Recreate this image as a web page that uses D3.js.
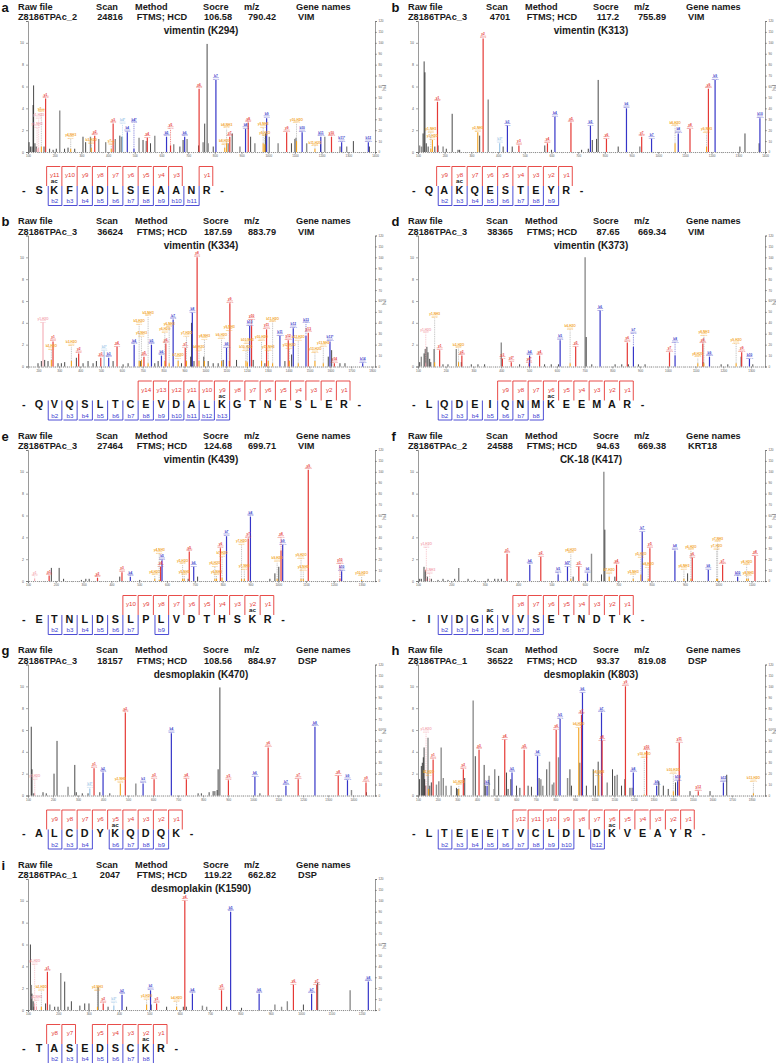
<!DOCTYPE html>
<html><head><meta charset="utf-8">
<script src="https://cdn.jsdelivr.net/npm/d3@7"></script>
<style>
body{margin:0;background:#fff;}
svg{display:block;font-family:"Liberation Sans",Arial,sans-serif;}
</style></head><body>
<svg id="chart" width="776" height="1063"></svg>
<script>
// ---------- header / annotation data ----------
const panelLetters = ["a","b","b","d","e","f","g","h","i"];
const headerLabels = ["Raw file","Scan","Method","Socre","m/z","Gene names"];
const rawFiles = ["Z8186TPAc_2","Z8186TPAc_3","Z8186TPAc_3","Z8186TPAc_3","Z8186TPAc_3","Z8186TPAc_2","Z8186TPAc_3","Z8186TPAc_1","Z8186TPAc_1"];
const scans = ["24816","4701","36624","38365","27464","24588","18157","36522","2047"];
const methods = ["FTMS; HCD","FTMS; HCD","FTMS; HCD","FTMS; HCD","FTMS; HCD","FTMS; HCD","FTMS; HCD","FTMS; HCD","FTMS; HCD"];
const scores = ["106.58","117.2","187.59","87.65","124.68","94.63","108.56","93.37","119.22"];
const precursorMz = ["790.42","755.89","883.79","669.34","699.71","669.38","884.97","819.08","662.82"];
const genes = ["VIM","VIM","VIM","VIM","VIM","KRT18","DSP","DSP","DSP"];
const titles = ["vimentin (K294)","vimentin (K313)","vimentin (K334)","vimentin (K373)","vimentin (K439)","CK-18 (K417)","desmoplakin (K470)","desmoplakin (K803)","desmoplakin (K1590)"];
const sequences = ["SKFADLSEAANR","QAKQESTEYR","QVQSLTCEVDALKGTNESLER","LQDEIQNMKEEMAR","ETNLDSLPLVDTHSKR","IVDGKVVSETNDTK","ALCDYKQDQK","LTEEETVCLDLDKVEAYR","TASEDSCKR"];
const acSites = [1,2,12,8,14,4,5,12,7];
const yIons = [
  [11,10,9,8,7,6,5,4,3,1],
  [9,8,7,6,5,4,3,2,1],
  [14,13,12,11,10,9,8,7,6,5,4,3,2,1],
  [9,8,7,6,5,4,3,2,1],
  [10,9,8,7,6,5,4,3,2,1],
  [8,7,6,5,4,3,2,1],
  [9,8,7,6,5,4,3,2,1],
  [12,11,10,9,8,7,6,5,4,3,2,1],
  [8,7,5,4,3,2,1]
];
const bIons = [
  [2,3,4,5,6,7,8,9,10,11],
  [2,3,4,5,6,7,8,9],
  [2,3,4,5,6,7,8,9,10,11,12,13],
  [2,3,4,5,6,7,8],
  [2,3,4,5,6,7,9],
  [2,3,4,5,6,7,8],
  [2,3,4,6,7,8,9],
  [2,3,4,5,6,7,8,9,10,12],
  [2,3,4,5,6,7,8]
];
const mzDomains = [[100,1400],[100,1400],[150,1814],[100,1350],[100,1348],[100,1140],[100,1487],[100,1868],[100,1244]];
const intensityTicks = [0,20,40,60,80,100,120];
const intensityTickLabels = ["0","2","4","6","8","10",""];
const percentTicks = [0,10,20,30,40,50,60,70,80,90,100,110,120];

// ---------- spectra: [m/z, relative intensity %, kind, label, label level] ----------
// kind: k black, g gray, y y-ion(red), b b-ion(blue), o neutral loss(orange), p pink, c light blue
const peaksA = [
[104,9,"k"],[109,5,"k"],[115,5,"g"],[119,43,"k"],[121,61,"k"],[126,8,"k"],[131,5,"k"],
[134,3,"p","y1-NH3",22],[140,4,"p","y1-H2O",30],[150,5,"o","y2++",36],[160,5,"k"],[166,49,"y","y1"],
[181,3,"k"],[194,2,"k"],[206,3,"k"],[219,38,"g"],[237,3,"k"],[250,4,"k"],[260,3,"o","y4-NH3",12],[275,3,"k"],
[306,14,"k"],[316,9,"k"],[334,14,"g"],[337,4,"o","b3-H2O",7],[350,15,"y","y2"],[365,12,"g"],
[391,9,"g"],[412,3,"o","y7++",6],[419,26,"y","y3"],[427,12,"g"],[444,15,"k"],[450,14,"g"],[454,14,"c","b4*"],
[472,18,"b","b4"],[497,3,"b","b4*",26],[516,13,"g"],[531,11,"k"],[543,10,"g"],[547,13,"y","y4"],[559,8,"k"],[575,15,"g"],
[619,14,"b","b5"],[634,6,"y","y5",21],[646,7,"g"],[669,5,"k"],[681,11,"k"],[687,14,"b","b6"],[696,12,"g"],
[739,6,"k"],[741,58,"y","y6"],[756,9,"g"],[762,26,"k"],[771,99,"k"],[775,8,"g"],[794,5,"k"],[804,66,"b","b7"],
[837,4,"o","b8-H2O",6],[844,8,"o","b8-NH3",10],[850,8,"g"],[856,14,"y","y7"],[865,17,"k"],[894,5,"g"],
[915,21,"b","b8"],[925,27,"y","y8"],[934,14,"k"],[950,8,"g"],[981,8,"o","y9-NH3",22],[987,7,"o","y9-H2O",14],
[990,17,"k"],[994,31,"b","b9"],[1004,14,"g"],[1037,8,"g"],[1069,18,"y","y9"],[1087,8,"k"],[1100,12,"k"],
[1104,13,"g"],[1106,10,"o","y10-H2O",26],[1127,18,"b","b10"],[1144,8,"g"],[1175,3,"o","b11-H2O",5],
[1196,7,"k"],[1197,14,"b","b11"],[1212,14,"g"],[1237,14,"y","y10"],[1269,5,"g"],[1275,9,"b","b11*"],
[1294,5,"g"],[1319,10,"k"],[1375,9,"b","b12"],[1379,5,"k"]
];
const peaksB = [
[106,6,"g"],[113,5,"g"],[119,17,"k"],[123,83,"k"],[126,73,"k"],[131,8,"k"],[138,5,"k"],
[148,3,"o","y1-NH3",17],[154,11,"o","y1-H2O"],[163,5,"k"],[173,46,"y","y1"],[175,6,"k"],[194,5,"g"],
[206,3,"k"],[228,35,"k"],[250,2,"k"],[256,2,"k"],[324,18,"o","y2-NH3"],[331,15,"k"],[344,104,"y","y2"],
[363,48,"g"],[406,8,"c","b3*"],[419,5,"k"],[435,24,"b","b3"],[453,5,"k"],[478,6,"y","y3"],[575,6,"k"],
[585,8,"y","y4"],[600,2,"k"],[613,32,"b","b4"],[673,27,"y","y5"],[713,2,"k"],[738,3,"k"],[746,24,"b","b5"],
[753,11,"k"],[769,12,"k"],[775,66,"k"],[806,12,"y","y6"],[850,5,"k"],[881,40,"b","b6"],[931,5,"g"],
[938,14,"y","y7"],[975,12,"b","b7"],[1063,8,"o","b8-H2O",12],[1075,17,"b","b8"],[1119,21,"y","y8"],
[1181,5,"o","y9-NH3",17],[1188,58,"y","y9"],[1213,66,"b","b9"],[1306,5,"k"],[1325,17,"k"],[1378,8,"k"],
[1381,31,"b","b10"]
];
const peaksC = [
[198,3,"k"],[214,5,"k"],[222,40,"p","y1-H2O"],[230,6,"k"],[246,5,"k"],[262,6,"o","b2-H2O",15],[270,23,"y","y1"],
[294,3,"k"],[310,3,"k"],[326,4,"k"],[358,5,"o","b3-H2O",7],[382,8,"k"],[393,12,"y","y2"],[414,3,"k"],
[438,5,"k"],[462,3,"k"],[478,5,"k"],[499,8,"y","y3"],[515,14,"c","b3*"],[537,8,"b","b3"],[558,5,"k"],
[577,18,"y","y4"],[606,2,"k"],[630,3,"k"],[659,20,"b","b4"],[683,5,"o","b5-H2O",38],[689,5,"k"],
[694,6,"o","y5-NH3",10],[706,9,"y","y5"],[726,3,"o","b5-NH3",40],[742,20,"b","b5"],[758,3,"k"],[774,5,"k"],
[790,10,"b","b6"],[806,5,"o","y6-H2O",19],[811,21,"y","y6"],[827,3,"o","y6-NH3",30],[846,43,"b","b7"],
[870,5,"o","b7-H2O",7],[886,3,"k"],[904,17,"y","y7"],[910,5,"o","y7-H2O",27],[930,9,"k"],[934,40,"k"],
[938,49,"b","b8"],[946,5,"k"],[961,100,"y","y8"],[970,5,"o","b8-H2O",14],[993,9,"k"],[996,5,"o","y8-NH3",13],
[1014,5,"k"],[1038,3,"k"],[1062,3,"k"],[1078,5,"o","b9-H2O",25],[1086,6,"k"],[1102,17,"b","b9"],
[1115,5,"o","y9-NH3",27],[1118,58,"y","y9"],[1150,6,"k"],[1195,5,"o","b10-H2O",14],[1202,4,"o","b10-NH3",9],
[1213,37,"b","b10"],[1222,37,"y","y10"],[1230,6,"k"],[1270,5,"o","y10-H2O",23],[1286,3,"k"],[1294,34,"y","y11"],
[1302,5,"o","y11-NH3",14],[1323,3,"o","b11-H2O",23],[1358,28,"b","b11"],[1382,5,"k"],[1398,24,"y","y12"],
[1403,5,"o","y12-H2O",16],[1414,11,"k"],[1422,35,"b","b12"],[1446,3,"o","b12-H2O",12],[1483,28,"b","b13"],
[1494,31,"y","y13"],[1526,5,"o","y13-H2O",12],[1566,3,"o","y13-NH3",12],[1590,9,"k"],[1598,23,"b","b13*"],
[1606,15,"k"],[1619,3,"y","y14"],[1646,3,"k"],[1670,3,"k"],[1755,3,"b","b14"]
];
const peaksD = [
[106,4,"k"],[112,9,"g"],[122,12,"k"],[126,16,"k"],[128,3,"p","y1-H2O",30],[132,18,"k"],[136,13,"k"],[142,7,"k"],
[146,4,"k"],[158,16,"k"],[160,4,"o","y1-NH3",44],[178,15,"y","y1"],[190,2,"k"],[208,2,"k"],[238,16,"g"],
[246,4,"o","b2-H2O",5],[256,4,"k"],[258,10,"y","y2"],[292,2,"k"],[316,2,"k"],[340,2,"k"],[400,22,"g"],
[404,7,"y","y3"],[436,4,"y","y3*"],[466,2,"k"],[500,3,"y","y4*"],[502,10,"b","b4"],[538,10,"y","y4"],
[556,2,"k"],[580,2,"k"],[606,2,"k"],[612,24,"b","b5"],[648,3,"o","b6-H2O",33],[668,18,"y","y5"],
[702,100,"g"],[706,27,"k"],[726,2,"k"],[756,51,"b","b6"],[810,2,"k"],[834,2,"k"],[854,22,"y","y6"],
[858,2,"k"],[876,18,"b","b7"],[894,2,"k"],[918,2,"k"],[1006,13,"y","y7"],[1026,10,"b","b8"],
[1108,3,"o","y8-H2O",8],[1126,21,"y","y8"],[1127,4,"k"],[1130,3,"o","y8-NH3",28],[1150,9,"b","b9"],
[1192,2,"k"],[1216,2,"k"],[1246,3,"o","y9-H2O",9],[1264,9,"k"],[1266,13,"y","y9"],[1294,7,"b","b10"],[1306,2,"k"]
];
const peaksE = [
[124,2,"p","y1",4],[176,5,"y","y1"],[184,12,"k"],[212,12,"k"],[228,2,"k"],[292,1,"k"],[308,2,"k"],[320,2,"k"],
[350,3,"y","y2"],[430,4,"k"],[438,8,"y","y3"],[468,4,"b","b4"],[502,1,"k"],[556,2,"o","y4-H2O",5],
[572,1,"o","y4-NH3",2],[577,13,"y","y4"],[582,19,"b","b5"],[656,2,"o","y5-H2O",15],[662,2,"o","y5-NH3",5],
[676,2,"k"],[680,27,"y","y5"],[696,13,"b","b6"],[710,4,"k"],[772,2,"o","y6-H2O",13],[778,2,"o","y6-NH3",5],
[792,30,"y","y6"],[798,3,"o","b7-H2O",22],[814,41,"b","b7"],[868,2,"o","y7-H2O",33],[878,2,"o","y7-NH3",10],
[892,39,"y","y7"],[900,59,"b","b8"],[970,2,"k"],[988,7,"k"],[996,2,"o","b9-H2O",17],[1002,13,"k"],
[1010,28,"y","y8"],[1016,33,"b","b9"],[1082,2,"o","y9-H2O",20],[1090,2,"o","y9-NH3",9],[1108,102,"y","y9"],
[1222,2,"y","y10",4],[1228,9,"b","b10"],[1300,1,"o","y10-H2O",4]
];
const peaksF = [
[105,2,"k"],[110,2,"k"],[118,13,"k"],[122,10,"k"],[125,2,"p","y1-H2O",30],[128,4,"k"],[135,2,"p","y1-NH3",6],
[140,2,"k"],[160,1,"k"],[175,2,"k"],[190,1,"k"],[210,2,"k"],[222,12,"g"],[250,2,"k"],[270,1,"k"],[310,2,"k"],
[330,2,"k"],[340,2,"k"],[350,2,"k"],[367,25,"y","y1"],[435,15,"b","b4"],[468,22,"y","y2"],[520,6,"b","b5",7],
[548,13,"b","b5*"],[558,2,"o","y4-H2O",25],[565,4,"k"],[582,13,"y","y3"],[608,7,"b","b6"],[620,25,"g"],
[650,6,"k"],[657,100,"g"],[660,47,"k"],[673,4,"o","b7-H2O",6],[690,4,"k"],[695,15,"y","y4"],
[745,2,"o","y5-NH3",5],[768,6,"o","y5-H2O",21],[772,45,"b","b7"],[790,2,"o","b8-H2O",12],[795,30,"y","y5"],
[870,28,"b","b8"],[897,2,"o","y6-NH3",10],[908,7,"k"],[918,2,"o","y6-H2O",5],[922,21,"y","y6"],
[970,10,"b","b9"],[995,2,"o","y7-H2O",28],[998,2,"o","y7-NH3",18],[1013,15,"y","y7"],[1058,4,"b","b10"],
[1085,2,"o","y8-H2O",14],[1090,2,"o","y8-NH3",4],[1110,23,"y","y8"]
];
const peaksG = [
[113,63,"k"],[116,24,"k"],[123,2,"k"],[127,2,"p","y1-H2O",14],[160,3,"k"],[173,2,"k"],[204,20,"k"],[216,50,"k"],
[260,8,"g"],[287,28,"k"],[293,3,"k"],[317,2,"k"],[340,2,"k"],[347,6,"c","b3*",7],[364,25,"y","y1"],[387,3,"k"],
[400,21,"b","b2"],[427,2,"k"],[469,11,"o","y2-NH3"],[489,76,"y","y2"],[531,11,"g"],[560,11,"b","b3"],
[604,15,"y","y3"],[673,57,"b","b4"],[733,15,"y","y4"],[780,2,"k"],[793,2,"k"],[824,3,"k"],[840,4,"k"],
[847,4,"k"],[856,5,"k"],[860,24,"k"],[867,99,"k"],[901,14,"y","y5"],[1007,17,"b","b6"],[1027,2,"k"],
[1060,44,"y","y6"],[1131,9,"b","b7"],[1180,15,"y","y7"],[1247,63,"b","b8"],[1340,18,"y","y8"],
[1377,14,"b","b9"],[1393,5,"g"],[1451,12,"y","y9"],[1453,3,"k"]
];
const peaksH = [
[108,15,"k"],[117,27,"k"],[122,30,"k"],[127,35,"k"],[131,44,"k"],[134,15,"k"],[139,9,"k"],[141,9,"p","y1-H2O",57],
[151,53,"g"],[154,6,"o","b2-H2O",18],[160,9,"k"],[168,12,"k"],[177,33,"y","y1"],[194,10,"g"],[206,13,"g"],
[218,44,"g"],[229,16,"g"],[243,9,"g"],[269,9,"g"],[296,7,"k"],[303,6,"k"],[308,6,"o","b3-H2O",9],
[331,24,"y","y2"],[338,16,"k"],[381,87,"g"],[392,36,"k"],[411,42,"y","y3"],[437,28,"k"],[443,9,"k"],
[452,9,"b","b2"],[462,18,"g"],[488,6,"g"],[491,24,"g"],[511,18,"k"],[542,51,"y","y4"],[551,21,"k"],
[559,6,"k"],[573,15,"k"],[579,21,"b","b3"],[602,9,"k"],[619,7,"k"],[641,42,"y","y5"],[661,9,"k"],[678,8,"k"],
[709,36,"b","b4"],[717,16,"k"],[726,15,"g"],[736,9,"g"],[756,24,"k"],[770,31,"g"],[784,10,"g"],[792,12,"g"],
[804,60,"y","y6"],[816,35,"g"],[824,70,"b","b5"],[862,16,"g"],[874,24,"k"],[882,9,"k"],[919,62,"o","b6-H2O"],
[924,30,"g"],[933,74,"y","y7"],[938,94,"b","b6"],[958,9,"k"],[993,24,"k"],[1004,9,"k"],[1018,31,"k"],
[1021,18,"o","y8-NH3"],[1035,76,"b","b7"],[1038,50,"y","y8"],[1064,12,"g"],[1091,24,"k"],[1103,18,"k"],
[1115,19,"g"],[1137,9,"k"],[1154,15,"k"],[1157,100,"y","y9"],[1180,7,"k"],[1191,7,"g"],[1197,21,"b","b8"],
[1253,1,"o","y10-H2O",34],[1265,41,"y","y10"],[1316,9,"b","b9"],[1327,13,"k"],[1350,9,"k"],[1375,6,"k"],
[1401,4,"o","b10-H2O",8],[1412,12,"k"],[1423,13,"b","b10"],[1431,48,"y","y11"],[1486,4,"k"],
[1528,4,"y","y12"],[1588,4,"k"],[1656,12,"b","b12"],[1673,19,"k"],[1809,2,"o","b13-H2O",12]
];
const peaksI = [
[108,60,"k"],[111,23,"g"],[113,15,"k"],[117,8,"k"],[120,3,"k"],[122,6,"p","y1-H2O",41],[128,3,"p","y1-NH3",8],
[144,3,"o","b2-H2O",17],[158,6,"k"],[164,35,"y","y1"],[172,5,"g"],[188,3,"k"],[199,3,"k"],[208,34,"g"],
[221,26,"k"],[232,3,"k"],[243,8,"k"],[271,4,"k"],[287,6,"k"],[301,6,"k"],[329,3,"o","y2-NH3",17],
[331,21,"k"],[348,6,"y","y2"],[364,3,"k"],[383,4,"c","b3*",6],[410,14,"b","b2"],[425,3,"k"],
[491,5,"o","y3-H2O",9],[504,18,"b","b3"],[506,5,"k"],[524,6,"y","y3"],[557,3,"k"],[590,3,"o","b4-H2O",7],
[612,3,"k"],[617,100,"y","y4"],[622,3,"k"],[642,15,"b","b4"],[675,4,"g"],[689,3,"g"],[738,18,"y","y5"],
[755,3,"k"],[768,90,"b","b5"],[804,2,"k"],[862,15,"b","b6"],[914,5,"g"],[936,3,"g"],[955,8,"g"],
[975,23,"y","y6"],[1008,5,"k"],[1035,15,"b","b7"],[1052,23,"y","y7"],[1055,25,"k"],[1162,18,"g"],[1222,26,"b","b8"]
];
const spectra = [peaksA,peaksB,peaksC,peaksD,peaksE,peaksF,peaksG,peaksH,peaksI];

// ---------- drawing ----------
const COLORS = {k:"#1a1a1a", g:"#8e8e8e", y:"#e53935", b:"#3535c8", o:"#f2a21e", p:"#f3a3ad", c:"#9cc6e8"};
const WIDTHS = {k:0.8, g:1.4, y:1.2, b:1.2, o:1.1, p:1, c:1.2};
const RED = "#e53935", BLUE = "#3a3ad0";
const svg = d3.select("#chart");

function styleAxis(sel, fs){
  sel.select(".domain").attr("stroke","#555").attr("stroke-width",0.6);
  sel.selectAll(".tick line").attr("stroke","#555").attr("stroke-width",0.5);
  sel.selectAll(".tick text").attr("font-size",fs).attr("fill","#555");
}

panelLetters.forEach((letter, i) => {
  const col = i % 2, row = Math.floor(i / 2);
  const g = svg.append("g").attr("transform", `translate(${col*390},${row*214.5})`);

  // panel letter and header
  g.append("text").attr("x",1.5).attr("y",11.5).attr("font-size",13).attr("font-weight","bold").attr("fill","#111").text(letter);
  const hx = [18,96,135,203,244,296];
  headerLabels.forEach((t,j)=> g.append("text").attr("x",hx[j]).attr("y",9.5)
    .attr("font-size",9.2).attr("font-weight","bold").attr("fill","#1a1a1a").text(t));
  const vals = [rawFiles[i], scans[i], methods[i], scores[i], precursorMz[i], genes[i]];
  const vx = [18,110,162,218,262,298];
  const va = ["start","middle","middle","middle","middle","start"];
  vals.forEach((t,j)=> g.append("text").attr("x",vx[j]).attr("y",20.2).attr("text-anchor",va[j])
    .attr("font-size",9.2).attr("font-weight","bold").attr("fill","#1a1a1a").text(t));
  const title = g.append("text").attr("x",201).attr("y",34.3).attr("text-anchor","middle")
    .attr("font-size",10).attr("font-weight","bold").attr("fill","#1a1a1a").text(titles[i]);
  const tw = title.node().getComputedTextLength();

  // scales
  const dom = mzDomains[i];
  const x = d3.scaleLinear().domain(dom).range([28,375]);
  const y = d3.scaleLinear().domain([0,120]).range([152,21]);

  // axes
  const la = g.append("g").attr("transform","translate(28,0)")
    .call(d3.axisLeft(y).tickValues(intensityTicks).tickSize(2).tickPadding(2)
      .tickFormat((d,k)=>intensityTickLabels[k]));
  styleAxis(la, 3.5);
  const ra = g.append("g").attr("transform","translate(375,0)")
    .call(d3.axisRight(y).tickValues(percentTicks).tickSize(2).tickPadding(1.5));
  styleAxis(ra, 3);
  g.append("text").attr("transform","translate(382.5,88) rotate(90)").attr("text-anchor","middle")
    .attr("font-size",4).attr("fill","#444").text("[%]");
  const majors = d3.range(Math.ceil(dom[0]/100)*100, dom[1]+1, 100);
  const ba = g.append("g").attr("transform","translate(0,152)")
    .call(d3.axisBottom(x).tickValues(majors).tickSize(2).tickPadding(1).tickFormat(d3.format("d")));
  styleAxis(ba, 3);
  ba.select(".domain").attr("stroke-dasharray","1.2,0.8");
  const minors = d3.range(Math.ceil(dom[0]/20)*20, dom[1], 20);
  g.append("g").selectAll("line").data(minors).join("line")
    .attr("x1",d=>x(d)).attr("x2",d=>x(d)).attr("y1",152).attr("y2",153.2)
    .attr("stroke","#777").attr("stroke-width",0.4);

  // peaks: gray/black first, then annotated
  const pk = spectra[i].slice().sort((a,b)=>{
    const r = k => (k==="k"||k==="g") ? 0 : 1;
    return r(a[2]) - r(b[2]);
  });
  const pg = g.append("g");
  pg.selectAll("line.peak").data(pk).join("line").attr("class","peak")
    .attr("x1",d=>x(d[0])).attr("x2",d=>x(d[0]))
    .attr("y1",y(0)).attr("y2",d=>y(d[1]))
    .attr("stroke",d=>COLORS[d[2]]).attr("stroke-width",d=>WIDTHS[d[2]]);

  // peak labels with simple vertical de-overlap
  const placed = [{x0:201-tw/2-1, x1:201+tw/2+1, y0:25, y1:37}];
  const lab = pk.filter(d=>d[3]).sort((a,b)=>b[1]-a[1]);
  const LH = 5.6;
  lab.forEach(d=>{
    const colr = COLORS[d[2]];
    const px = x(d[0]);
    const w = Math.max(d[3].length*1.85, 7);
    const lvl = d[4] && d[4] > d[1] ? d[4] : d[1];
    let top = y(lvl);
    const hit = t => placed.some(b => px - w/2 < b.x1 && px + w/2 > b.x0 && t - LH < b.y1 && t > b.y0);
    let tries = 0;
    while (hit(top) && tries < 8 && top - LH - 6.2 > 38) { top -= 6.2; tries++; }
    if (hit(top)) {
      top = y(lvl);
      let t2 = top; let k = 0;
      while (hit(t2) && k < 12) { t2 -= 3; k++; }
      if (!hit(t2) && t2 - LH > 20) top = t2;
    }
    placed.push({x0:px-w/2, x1:px+w/2, y0:top-LH, y1:top});
    if (top < y(d[1]) - 0.5) {
      pg.append("line").attr("x1",px).attr("x2",px).attr("y1",y(d[1])).attr("y2",top)
        .attr("stroke",d[2]==="o"?"#999":colr).attr("stroke-width",0.6).attr("stroke-dasharray","1,0.8");
    }
    pg.append("text").attr("x",px).attr("y",top-3).attr("text-anchor","middle")
      .attr("font-size",3.2).attr("font-weight","bold").attr("fill",colr).text(d[3]);
    pg.append("line").attr("x1",px-3).attr("x2",px+3).attr("y1",top-2.3).attr("y2",top-2.3)
      .attr("stroke",colr).attr("stroke-width",0.4);
    pg.append("text").attr("x",px).attr("y",top-0.3).attr("text-anchor","middle")
      .attr("font-size",2.3).attr("fill",colr).text(d[0].toFixed(1));
  });

  // peptide sequence annotation
  const seq = sequences[i].split("");
  const n = seq.length, step = 15.25, x0 = 39;
  const cx = k => x0 + k*step;
  const sg = g.append("g");
  sg.selectAll("text.res").data(["-"].concat(seq, ["-"])).join("text").attr("class","res")
    .attr("x",(d,k)=>cx(k-1)).attr("y",193.6).attr("text-anchor","middle")
    .attr("font-size",10.8).attr("font-weight","bold").attr("fill","#151515").text(d=>d);
  sg.append("text").attr("x",cx(acSites[i])).attr("y",183.4).attr("text-anchor","middle")
    .attr("font-size",6.2).attr("font-weight","bold").attr("fill","#222").text("ac");

  const yi = yIons[i];
  yi.forEach(kk=>{
    const r = n - kk;
    const xl = cx(r) - step/2, xr = cx(r) + step/2 - 1.6;
    let p = `M${xl},186 V166.5 H${xr}`;
    if (!yi.includes(kk-1)) p += ` V186`;
    sg.append("path").attr("d",p).attr("fill","none").attr("stroke",RED).attr("stroke-width",0.9);
    sg.append("text").attr("x",cx(r)+0.4).attr("y",177.2).attr("text-anchor","middle")
      .attr("font-size",6.2).attr("fill",RED).text("y"+kk);
  });
  const bi = bIons[i];
  bi.forEach(kk=>{
    const r = kk - 1;
    const xr = cx(r) + step/2, xl = cx(r) - step/2 + 1.6;
    let p = `M${xr},186 V205.5 H${xl}`;
    if (!bi.includes(kk-1)) p += ` V186`;
    sg.append("path").attr("d",p).attr("fill","none").attr("stroke",BLUE).attr("stroke-width",0.9);
    sg.append("text").attr("x",cx(r)+0.4).attr("y",203).attr("text-anchor","middle")
      .attr("font-size",6.2).attr("fill",BLUE).text("b"+kk);
  });
});
</script>
</body></html>
